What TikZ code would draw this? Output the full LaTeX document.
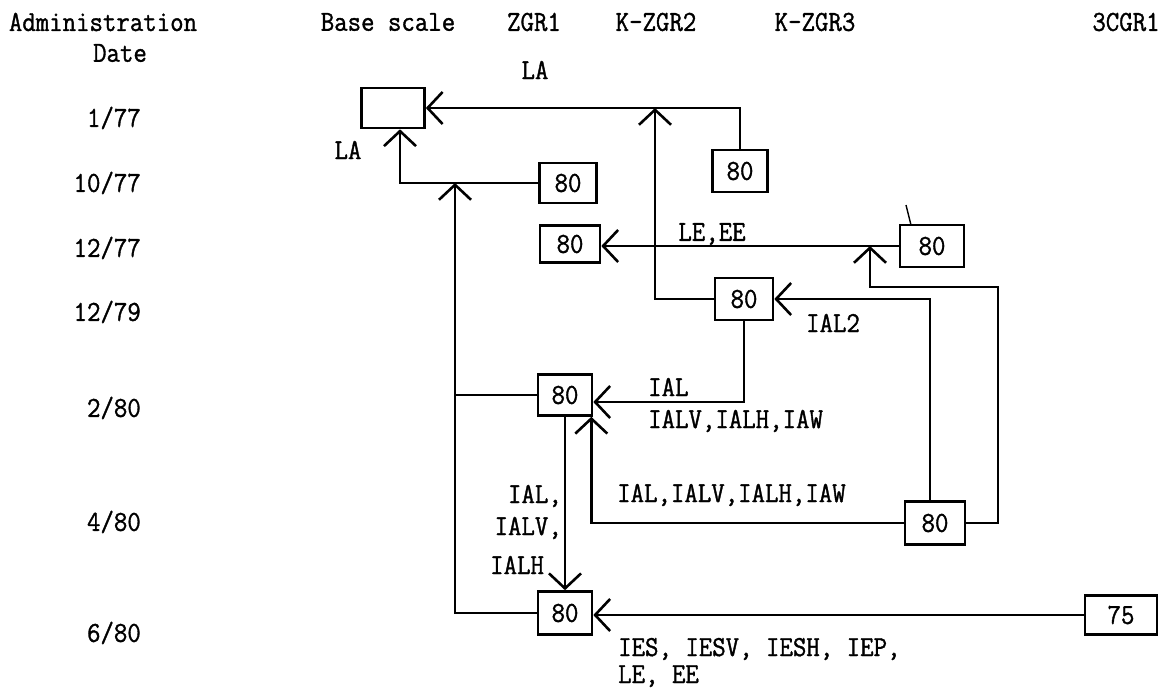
\documentclass[tikz,border=0pt]{standalone}
\usepackage{fontspec}
\setmonofont[FakeBold=1.2,FakeStretch=0.9]{Latin Modern Mono}
\usetikzlibrary{arrows.meta,calc}
\begin{document}
\begin{tikzpicture}[x=1pt,y=-1pt,
  txt/.style={inner sep=0pt,font=\ttfamily\fontsize{29}{32}\selectfont},
  bx/.style={draw,line width=2.6pt,inner sep=0pt,font=\ttfamily\fontsize{29}{32}\selectfont},
  ln/.style={line width=2.6pt},
  arr/.style={line width=2.6pt,-{Straight Barb[length=15pt,width=32pt,line width=2.6pt]}}]
\useasboundingbox (0,0) rectangle (1162,691);
% headers
\node[txt] (hadm) at (103,22) {Administration};
\node[txt] (hdate) at (120,53) {Date};
\node[txt] (hbase) at (388,22) {Base scale};
\node[txt] (hz1) at (534,22) {ZGR1};
\node[txt] (hla) at (535,70) {LA};
\node[txt] (hk2) at (656,22) {K-ZGR2};
\node[txt] (hk3) at (815,22) {K-ZGR3};
\node[txt] (h3c) at (1126,22) {3CGR1};
% dates
\node[txt,anchor=east] (d1) at (141,118) {1/77};
\node[txt,anchor=east] (d2) at (141,183) {10/77};
\node[txt,anchor=east] (d3) at (141,248) {12/77};
\node[txt,anchor=east] (d4) at (141,312) {12/79};
\node[txt,anchor=east] (d5) at (141,408) {2/80};
\node[txt,anchor=east] (d6) at (141,522) {4/80};
\node[txt,anchor=east] (d7) at (141,633) {6/80};
% boxes
\node[bx,minimum width=63pt,minimum height=40pt] (B0) at (393,108) {};
\node[bx,minimum width=57pt,minimum height=40pt] (B1) at (568,183) {80};
\node[bx,minimum width=55pt,minimum height=42pt] (B2) at (740,171) {80};
\node[bx,minimum width=60pt,minimum height=37pt] (B3) at (570,244) {80};
\node[bx,minimum width=64pt,minimum height=42pt] (B4) at (932,246) {80};
\node[bx,minimum width=58pt,minimum height=42pt] (B5) at (744,299) {80};
\node[bx,minimum width=54pt,minimum height=41pt] (B6) at (565,395) {80};
\node[bx,minimum width=60pt,minimum height=43pt] (B7) at (935,523) {80};
\node[bx,minimum width=54pt,minimum height=43pt] (B8) at (565,613) {80};
\node[bx,minimum width=72pt,minimum height=39pt] (B9) at (1121,615) {75};
% junction coordinates
\coordinate (j1) at (655,108);
\coordinate (j2) at (455,183);
\coordinate (j3) at (870,246);
\coordinate (c1) at (998,287);
\coordinate (tk1) at (906,205);
\coordinate (tk2) at (911,225);
% connectors
\draw[arr] (B2.north) |- (B0.east);
\draw[arr] (B5.west) -| (j1);
\draw[arr] (B1.west) -| ([xshift=7pt]B0.south);
\draw[arr] (B8.west) -| (j2);
\draw[ln] (B6.west) -- (B6.west -| j2);
\draw[arr] (B4.west) -- (B4.west -| B3.east);
\draw[arr] (B7.east) -| (c1) -| (j3);
\draw[arr] ([xshift=-5pt]B7.north) |- (B5.east);
\draw[arr] (B5.south) |- ([yshift=-7pt]B6.east);
\draw[arr] (B7.west) -| ([xshift=-2pt]B6.south east);
\draw[arr] (B6.south) -- (B8.north);
\draw[arr] (B9.west) -- (B9.west -| B8.east);
\draw[line width=1.4pt] (tk1) -- (tk2);
% labels
\node[txt] (lla) at (348,150) {LA};
\node[txt] (llee) at (712,234) {LE,EE};
\node[txt] (lial2) at (833,323) {IAL2};
\node[txt,anchor=west] (lial) at (648,387) {IAL};
\node[txt,anchor=west] (lialv) at (648,421) {IALV,IALH,IAW};
\node[txt,anchor=west] (lall) at (617,495) {IAL,IALV,IALH,IAW};
\node[txt,anchor=east] (lv1) at (562,496) {IAL,};
\node[txt,anchor=east] (lv2) at (562,528) {IALV,};
\node[txt,anchor=west] (lv3) at (490,565) {IALH};
\node[txt,anchor=base west] (lies) at (618,656) {IES, IESV, IESH, IEP,};
\node[txt,anchor=base west] (llee2) at (618,683) {LE, EE};
\end{tikzpicture}
\end{document}
